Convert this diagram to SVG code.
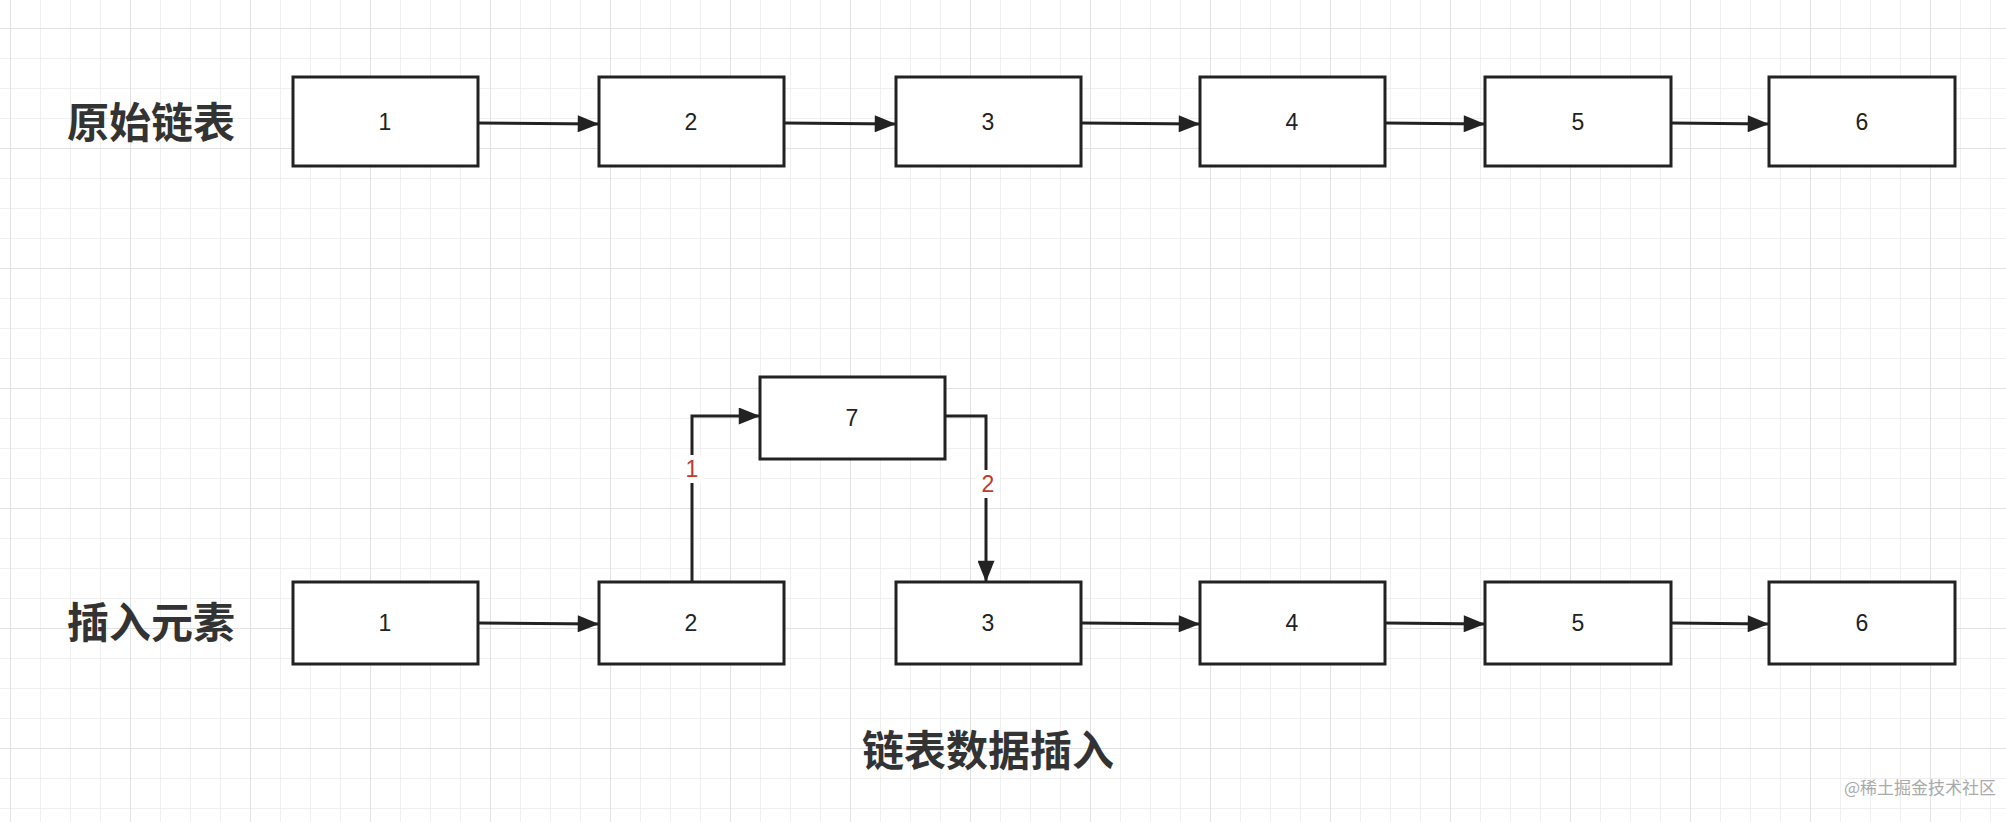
<svg xmlns="http://www.w3.org/2000/svg" width="2006" height="822" viewBox="0 0 2006 822">
<defs>
<pattern id="g" x="10" y="28" width="30" height="30" patternUnits="userSpaceOnUse"><path d="M0 0H30M0 0V30" stroke="#ececec" stroke-width="1.5" fill="none"/></pattern>
<pattern id="G" x="10" y="28" width="120" height="120" patternUnits="userSpaceOnUse"><path d="M0 0H120M0 0V120" stroke="#e2e2e2" stroke-width="2" fill="none"/></pattern>
<marker id="a" viewBox="0 0 20 16" refX="20" refY="8" markerWidth="22" markerHeight="17" markerUnits="userSpaceOnUse" orient="auto"><path d="M0 0L20 8L0 16z" fill="#222"/></marker>
</defs>
<style>
.b rect{fill:#fff;stroke:#222;stroke-width:3}
.b text{font:23px "Liberation Sans",sans-serif;fill:#222;text-anchor:middle;dominant-baseline:central}
.t{font:bold 42px "Noto Sans CJK SC",sans-serif;fill:#333}
.c path{fill:none;stroke:#222;stroke-width:3;marker-end:url(#a)}
.l{font:23px "Liberation Sans",sans-serif;fill:#c0392b;text-anchor:middle;dominant-baseline:central}
</style>
<rect width="2006" height="822" fill="#fff"/>
<rect width="2006" height="822" fill="url(#g)"/>
<rect width="2006" height="822" fill="url(#G)"/>
<text class="t" x="67" y="138">原始链表</text>
<text class="t" x="67" y="638">插入元素</text>
<text class="t" x="988" y="766" text-anchor="middle">链表数据插入</text>
<text x="1996" y="794" text-anchor="end" style="font:17px 'Noto Sans CJK SC',sans-serif;fill:#aaa">@稀土掘金技术社区</text>
<g class="c">
<path d="M478 123L599 124"/><path d="M784 123L896 124"/><path d="M1081 123L1200 124"/><path d="M1385 123L1485 124"/><path d="M1671 123L1769 124"/>
<path d="M478 623L599 624"/><path d="M1081 623L1200 624"/><path d="M1385 623L1485 624"/><path d="M1671 623L1769 624"/>
<path d="M692 582V416H760"/><path d="M945 416H986V582"/>
</g>
<rect x="680" y="455" width="24" height="28" fill="#fff"/><text class="l" x="692" y="469">1</text>
<rect x="976" y="470" width="24" height="28" fill="#fff"/><text class="l" x="988" y="484">2</text>
<g id="t1" class="b"><rect x="293" y="77" width="185" height="89"/><text x="385" y="122">1</text></g>
<g id="t2" class="b"><rect x="599" y="77" width="185" height="89"/><text x="691" y="122">2</text></g>
<g id="t3" class="b"><rect x="896" y="77" width="185" height="89"/><text x="988" y="122">3</text></g>
<g id="t4" class="b"><rect x="1200" y="77" width="185" height="89"/><text x="1292" y="122">4</text></g>
<g id="t5" class="b"><rect x="1485" y="77" width="186" height="89"/><text x="1578" y="122">5</text></g>
<g id="t6" class="b"><rect x="1769" y="77" width="186" height="89"/><text x="1862" y="122">6</text></g>
<g id="b1" class="b"><rect x="293" y="582" width="185" height="82"/><text x="385" y="623">1</text></g>
<g id="b2" class="b"><rect x="599" y="582" width="185" height="82"/><text x="691" y="623">2</text></g>
<g id="b7" class="b"><rect x="760" y="377" width="185" height="82"/><text x="852" y="418">7</text></g>
<g id="b3" class="b"><rect x="896" y="582" width="185" height="82"/><text x="988" y="623">3</text></g>
<g id="b4" class="b"><rect x="1200" y="582" width="185" height="82"/><text x="1292" y="623">4</text></g>
<g id="b5" class="b"><rect x="1485" y="582" width="186" height="82"/><text x="1578" y="623">5</text></g>
<g id="b6" class="b"><rect x="1769" y="582" width="186" height="82"/><text x="1862" y="623">6</text></g>
</svg>
